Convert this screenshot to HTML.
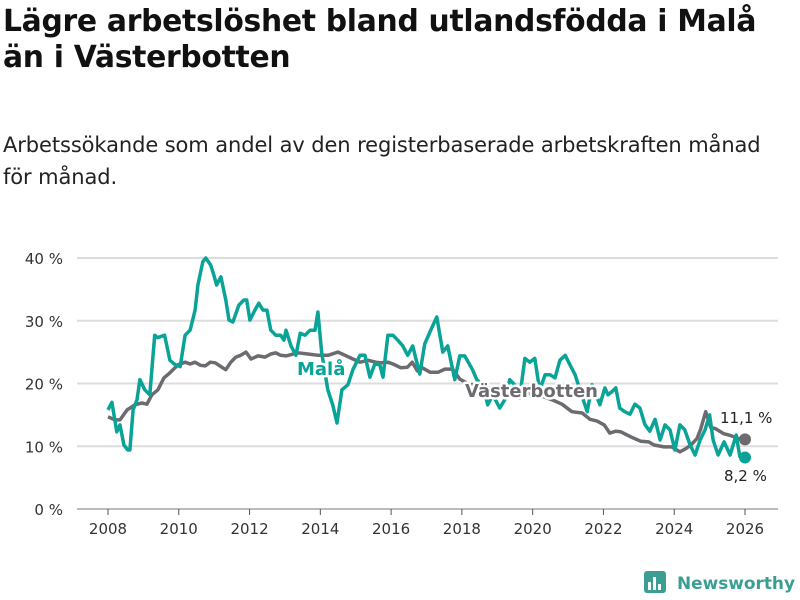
<!DOCTYPE html>
<html><head><meta charset="utf-8"><style>
body{margin:0;width:800px;height:600px;background:#fff;font-family:"Liberation Sans","DejaVu Sans",sans-serif;overflow:hidden;position:relative}
h1{position:absolute;left:3px;top:4px;margin:0;font-size:29.8px;line-height:36px;font-weight:bold;color:#111;letter-spacing:-0.3px;font-family:"DejaVu Sans","Liberation Sans",sans-serif}
p.sub{position:absolute;left:3px;top:129px;margin:0;font-size:21px;line-height:32px;color:#222;font-family:"DejaVu Sans","Liberation Sans",sans-serif;letter-spacing:-0.1px}
svg{position:absolute;left:0;top:0}
</style></head><body>
<h1>Lägre arbetslöshet bland utlandsfödda i Malå<br>än i Västerbotten</h1>
<p class="sub">Arbetssökande som andel av den registerbaserade arbetskraften månad<br>för månad.</p>
<svg id="chart" width="800" height="600"></svg>
<script>
const malaYears=[2008,2008.11,2008.25,2008.34,2008.45,2008.56,2008.62,2008.71,2008.82,2008.9,2009.04,2009.18,2009.32,2009.4,2009.6,2009.75,2009.9,2010.04,2010.18,2010.32,2010.46,2010.54,2010.68,2010.76,2010.9,2010.99,2011.07,2011.19,2011.33,2011.42,2011.53,2011.7,2011.84,2011.92,2012.01,2012.15,2012.26,2012.38,2012.49,2012.6,2012.74,2012.88,2012.97,2013.03,2013.17,2013.31,2013.43,2013.57,2013.71,2013.85,2013.93,2014.04,2014.21,2014.35,2014.47,2014.61,2014.78,2014.92,2015.12,2015.26,2015.4,2015.54,2015.68,2015.77,2015.91,2016.05,2016.19,2016.33,2016.47,2016.61,2016.81,2016.95,2017.12,2017.29,2017.46,2017.6,2017.8,2017.94,2018.08,2018.3,2018.42,2018.59,2018.73,2018.87,2019.07,2019.21,2019.35,2019.49,2019.63,2019.78,2019.92,2020.06,2020.2,2020.35,2020.49,2020.63,2020.77,2020.92,2021.06,2021.2,2021.34,2021.54,2021.68,2021.9,2022.04,2022.13,2022.24,2022.35,2022.46,2022.6,2022.75,2022.89,2023.03,2023.17,2023.31,2023.46,2023.6,2023.74,2023.88,2024.02,2024.16,2024.3,2024.45,2024.59,2024.73,2024.87,2025.0,2025.1,2025.24,2025.41,2025.58,2025.75,2025.86,2026.0];
const malaValues=[15.8,17,12.3,13.4,10.2,9.4,9.4,15.8,17.4,20.6,19,18.2,27.7,27.3,27.7,23.7,23,22.7,27.7,28.5,31.7,35.7,39.4,40,38.9,37.3,35.7,37,33.3,30.1,29.8,32.5,33.3,33.3,30.1,31.7,32.8,31.7,31.7,28.5,27.7,27.7,26.9,28.5,26,24.5,28,27.7,28.5,28.5,31.4,24.9,19,16.6,13.7,19,19.8,22.2,24.5,24.5,21,23.1,23,21,27.7,27.7,26.9,26,24.5,26,21.5,26.3,28.5,30.6,25,26,20.6,24.4,24.4,22.2,20.6,19.8,16.6,18.2,16.1,17.4,20.6,19.8,17.7,24,23.4,24,18.9,21.4,21.4,20.9,23.7,24.5,22.9,21.4,18.9,15.5,19.8,16.6,19.3,18.2,18.7,19.3,16.1,15.5,15.1,16.7,16.1,13.5,12.4,14.3,11,13.4,12.6,9.4,13.4,12.6,10.2,8.6,11,12.6,15,11,8.6,10.7,8.6,11.8,8.2];
const vbYears=[2008,2008.2,2008.34,2008.54,2008.76,2008.96,2009.1,2009.24,2009.41,2009.58,2009.75,2009.98,2010.18,2010.32,2010.46,2010.61,2010.75,2010.89,2011.03,2011.19,2011.33,2011.47,2011.61,2011.75,2011.9,2012.04,2012.24,2012.44,2012.6,2012.74,2012.88,2013.03,2013.37,2013.65,2013.94,2014.22,2014.5,2014.7,2014.92,2015.12,2015.35,2015.57,2015.71,2015.91,2016.05,2016.28,2016.46,2016.6,2016.74,2016.88,2017.1,2017.33,2017.52,2017.74,2017.94,2018.23,2018.43,2018.71,2019.13,2019.41,2019.7,2019.98,2020.27,2020.55,2020.83,2021.11,2021.4,2021.62,2021.82,2022.02,2022.18,2022.35,2022.49,2022.77,2023.05,2023.28,2023.43,2023.71,2023.93,2024.16,2024.32,2024.47,2024.64,2024.75,2024.89,2025.03,2025.17,2025.4,2025.6,2025.74,2025.88,2026.0];
const vbValues=[14.7,14.2,14.2,15.8,16.6,16.9,16.7,18.2,19,20.9,21.7,23,23.4,23.1,23.4,22.9,22.8,23.4,23.3,22.7,22.2,23.4,24.2,24.5,25,23.9,24.4,24.2,24.7,24.9,24.5,24.4,24.9,24.7,24.5,24.5,25,24.5,23.9,23.4,23.7,23.4,23.3,23.4,23.1,22.5,22.6,23.4,22,22.5,21.8,21.8,22.3,22.3,20.7,19.8,19.9,19.3,19.3,19.3,18.6,18.3,18,17.4,16.7,15.5,15.3,14.3,14,13.4,12.1,12.4,12.3,11.5,10.8,10.7,10.2,9.9,9.9,9.1,9.6,10.2,11.2,12.8,15.5,13,12.8,12,11.7,11.4,11.1];
const yTicks=[0,10,20,30,40];
const xTicks=[2008,2010,2012,2014,2016,2018,2020,2022,2024,2026];
const NS="http://www.w3.org/2000/svg";
const svg=document.getElementById('chart');
const X=v=>108+(v-2008)*(745-108)/18;
const Y=v=>509-v*6.275;
function mk(t,a,p){const e=document.createElementNS(NS,t);for(const k in a)e.setAttribute(k,a[k]);(p||svg).appendChild(e);return e;}
yTicks.forEach(t=>{
  const g=mk('line',{x1:77,x2:778,y1:Y(t),y2:Y(t),stroke:t===0?'#bbb':'#ddd','stroke-width':2});
  
  
  const l=mk('text',{x:63,y:Y(t)+6,'text-anchor':'end','font-size':15,fill:'#333','font-family':'DejaVu Sans, Liberation Sans, sans-serif'});
  l.textContent=t+' %';
  
  
});
xTicks.forEach(t=>{
  const tk=mk('line',{x1:X(t),x2:X(t),y1:509,y2:515,stroke:'#555','stroke-width':1});
  
  
  const l=mk('text',{x:X(t),y:534,'text-anchor':'middle','font-size':15,fill:'#333','font-family':'DejaVu Sans, Liberation Sans, sans-serif'});
  l.textContent=t;
  
  
});
function line(xs,vs,col,name){
  const d=xs.map((x,i)=>(i?'L':'M')+X(x).toFixed(1)+','+Y(vs[i]).toFixed(1)).join('');
  const p=mk('path',{d:d,fill:'none',stroke:col,'stroke-width':3.5,'stroke-linejoin':'round'});
  
  
  const c=mk('circle',{cx:X(xs[xs.length-1]),cy:Y(vs[vs.length-1]),r:6,fill:col});
  
  
}
line(vbYears,vbValues,'#6d6a70','vasterbotten-line');
line(malaYears,malaValues,'#0aa398','mala-line');
function lab(x,y,txt,col,name,size,bold){
  const t=mk('text',{x:x,y:y,'font-size':size,fill:col,'font-weight':bold?'bold':'normal',stroke:'#fff','stroke-width':5,'paint-order':'stroke','stroke-linejoin':'round','font-family':'DejaVu Sans, Liberation Sans, sans-serif'});
  t.textContent=txt;
  
  
}
lab(297,375,'Malå','#0aa398','mala-label',18,true);
lab(465,397,'Västerbotten','#6d6a70','vasterbotten-label',18,true);
lab(720,423,'11,1 %','#222','vasterbotten-end-value',15,false);
lab(724,481,'8,2 %','#222','mala-end-value',15,false);
</script>
<svg width="800" height="600" style="pointer-events:none">
<rect x="644" y="571" width="22" height="22" rx="3" fill="#3b9e93"/>
<rect x="648" y="582" width="3" height="8" fill="#fff"/><rect x="653" y="577" width="3" height="13" fill="#fff"/><rect x="658" y="584" width="3" height="6" fill="#fff"/>
<text x="677" y="589" font-size="17" font-weight="bold" fill="#3b9e93" font-family="DejaVu Sans, Liberation Sans, sans-serif" textLength="118" lengthAdjust="spacingAndGlyphs">Newsworthy</text>
</svg>
</body></html>
